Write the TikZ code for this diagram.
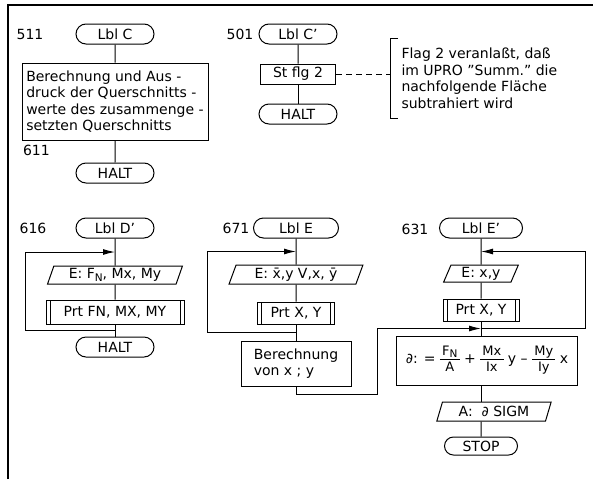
\documentclass[tikz,border=0pt]{standalone}
\usepackage{fontspec}
\setmainfont{DejaVu Sans}
\usepackage{tikz}
\usetikzlibrary{arrows.meta,positioning,shapes.geometric,shapes.misc,calc}

\newcommand{\subN}{\raisebox{-0.35ex}{\fontsize{10.5}{10.5}\selectfont N}}
\newcommand{\flowfrac}[2]{{\fontsize{13}{14}\selectfont\begin{tabular}{@{\,}c@{\,}}#1\\[-1pt]\hline\rule{0pt}{12pt}#2\end{tabular}}}

\begin{document}
\begin{tikzpicture}[
    x=1pt, y=-1pt,
    line width=1pt,
    font=\fontsize{14}{16.5}\selectfont,
    terminal/.style={
        rounded rectangle,
        draw=black,
        minimum width=78pt,
        minimum height=20pt,
        inner sep=0pt
    },
    box/.style={
        rectangle,
        draw=black,
        minimum height=20pt,
        inner sep=0pt,
        align=center
    },
    io/.style={
        trapezium,
        trapezium left angle=70,
        trapezium right angle=110,
        trapezium stretches=true,
        draw=black,
        minimum height=18pt,
        inner sep=0pt
    },
    prt/.style={
        rectangle,
        draw=black,
        minimum height=23pt,
        inner sep=0pt,
        path picture={
            \draw ([xshift=4pt]path picture bounding box.north west)
                -- ([xshift=4pt]path picture bounding box.south west);
            \draw ([xshift=-4pt]path picture bounding box.north east)
                -- ([xshift=-4pt]path picture bounding box.south east);
        }
    },
    addr/.style={
        inner sep=0pt
    },
    arrow/.style={
        -{Latex[length=12pt,width=6pt]}
    }
]

\useasboundingbox (0,0) rectangle (593,479);

% ---------------- FRAME ----------------

\draw[line width=1.2pt] (8,479) -- (8,5) -- (593,5);

% ---------------- LBL C ----------------

\node[terminal] (lblC) at (115,34)
    {Lbl C};

\node[box, below=18pt of lblC, minimum width=186pt, minimum height=77pt, align=left] (calcC)
    {Berechnung und Aus -\\druck der Querschnitts -\\werte des zusammenge -\\setzten Querschnitts};

\node[terminal, below=22pt of calcC] (haltC)
    {HALT};

\node[addr] (a511) at (30,34) {511};
\node[addr, anchor=north west] (a611) at ([xshift=1pt,yshift=-4pt]calcC.south west) {611};

% ---------------- LBL C' ----------------

\node[terminal] (lblCp) at (298,34)
    {Lbl C’};

\node[box, below=19pt of lblCp, minimum width=75pt] (flg)
    {St flg 2};

\node[terminal, below=19pt of flg] (haltCp)
    {HALT};

\node[addr] (a501) at (240,34) {501};

\node[align=left, anchor=west, inner xsep=11pt, inner ysep=0pt, minimum height=79pt] (note) at (390,78.5)
    {Flag 2 veranlaßt, daß\\im UPRO "Summ." die\\nachfolgende Fläche\\subtrahiert wird};

% ---------------- LBL D' ----------------

\node[terminal] (lblDp) at (115,228)
    {Lbl D’};

\node[io, below=27pt of lblDp, minimum width=135pt] (inD)
    {E: F\subN, Mx, My};

\node[prt, below=15pt of inD, minimum width=138pt, minimum height=24pt] (prtD)
    {Prt FN, MX, MY};

\node[terminal, below=12pt of prtD] (haltD)
    {HALT};

\node[addr] (a616) at (33,228) {616};

% ---------------- LBL E ----------------

\node[terminal, minimum width=85pt] (lblE) at (296,228)
    {Lbl E};

\node[io, below=26pt of lblE, minimum width=135pt, minimum height=19pt] (inE)
    {E: \={x},y V,x, \={y}};

\node[prt, below=17pt of inE, minimum width=77pt, minimum height=22pt] (prtE)
    {Prt X, Y};

\node[box, below=16pt of prtE, minimum width=110pt, minimum height=45pt, align=left] (calcE)
    {Berechnung\\von x ; y};

\node[addr] (a671) at (236,228) {671};

% ---------------- LBL E' ----------------

\node[terminal, minimum width=83pt] (lblEp) at (481,228)
    {Lbl E’};

\node[io, below=26pt of lblEp, minimum width=75pt, minimum height=17pt] (inF)
    {E: x,y};

\node[prt, below=16pt of inF, minimum width=76pt, minimum height=22pt] (prtF)
    {Prt X, Y};

\node[box, below=14pt of prtF, xshift=6pt, minimum width=181pt, minimum height=49pt] (formF)
    {∂: = \flowfrac{F\subN}{A} + \flowfrac{Mx}{Ix} y – \flowfrac{My}{Iy} x};

\node[io, below=16pt of formF, xshift=7pt, minimum width=115pt, minimum height=19pt] (outF)
    {A: \ ∂ SIGM};

\node[terminal, below=15pt of outF, xshift=-13pt, minimum width=73pt, minimum height=18pt] (stopF)
    {STOP};

\node[addr] (a631) at (415,229) {631};

% ---------------- CONNECTORS ----------------

\draw (lblC) -- (calcC);
\draw (calcC) -- (haltC);

\draw (lblCp) -- (flg);
\draw (flg) -- (haltCp);
\draw[dash pattern=on 6pt off 4pt] (flg) -- (flg -| note.west);
\draw ([xshift=8pt]note.north west) -- (note.north west)
    -- (note.south west) -- ([xshift=8pt]note.south west);

\draw (lblDp) -- (inD);
\draw (inD) -- (prtD);
\draw (prtD) -- (haltD);

\draw (lblE) -- (inE);
\draw (inE) -- (prtE);
\draw (prtE) -- (calcE);

\draw (lblEp) -- (inF);
\draw (inF) -- (prtF);
\draw (prtF.south) -- (prtF.south |- formF.north);
\draw (formF.south -| stopF) -- (outF.north -| stopF);
\draw (outF.south -| stopF) -- (stopF);

% loops
\coordinate (topD) at ($(lblDp.south)!0.5!(inD.north)$);
\coordinate (jD) at ($(prtD.south)!0.5!(haltD.north)$);
\draw[arrow] (jD) -- ++(-90,0) |- (topD);

\coordinate (topE) at ($(lblE.south)!0.5!(inE.north)$);
\coordinate (jE) at ($(prtE.south)!0.5!(calcE.north)$);
\draw[arrow] (jE) -- ++(-89,0) |- (topE);

\coordinate (topF) at ($(lblEp.south)!0.5!(inF.north)$);
\coordinate (jF) at ($(prtF.south)!0.5!(formF.north -| prtF)$);
\draw[arrow] (jF) -- ++(104,0) |- (topF);

\draw[arrow] (calcE.south) -- ++(0,8)
    -| ([xshift=-104pt]jF) -- (jF);

\end{tikzpicture}
\end{document}
